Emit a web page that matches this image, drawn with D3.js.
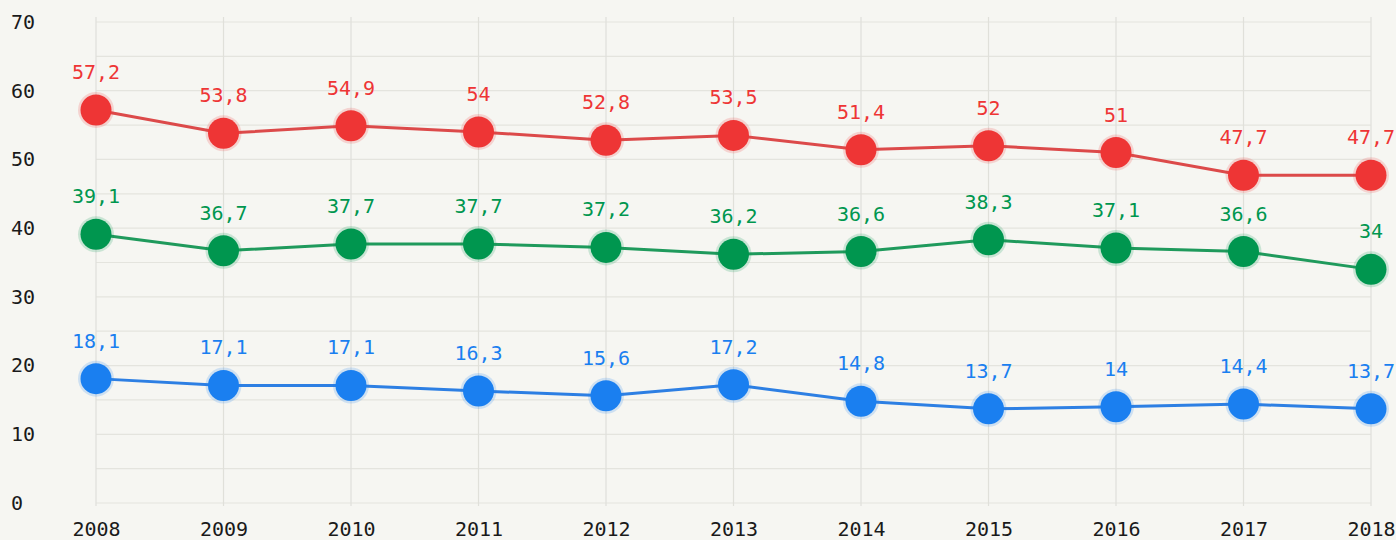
<!DOCTYPE html>
<html>
<head>
<meta charset="utf-8">
<script src="https://cdn.jsdelivr.net/npm/d3@7"></script>
<style>
  html, body { margin: 0; padding: 0; background: #f6f6f2; }
  svg { display: block; }
</style>
</head>
<body>
<svg id="chart"></svg>
<script>
const years = [2008, 2009, 2010, 2011, 2012, 2013, 2014, 2015, 2016, 2017, 2018]
const redValues = [57.2, 53.8, 54.9, 54, 52.8, 53.5, 51.4, 52, 51, 47.7, 47.7]
const greenValues = [39.1, 36.7, 37.7, 37.7, 37.2, 36.2, 36.6, 38.3, 37.1, 36.6, 34]
const blueValues = [18.1, 17.1, 17.1, 16.3, 15.6, 17.2, 14.8, 13.7, 14, 14.4, 13.7]
const yTicks = [0, 10, 20, 30, 40, 50, 60, 70]

const width = 1396, height = 540
const font = "'DejaVu Sans Mono', 'Liberation Mono', monospace"

const series = [
  { values: redValues, dot: '#ee3535', line: '#dc4a4a', text: '#ee3535' },
  { values: greenValues, dot: '#00964f', line: '#1f9a5c', text: '#00964f' },
  { values: blueValues, dot: '#1a7ff0', line: '#2d7fe3', text: '#1a7ff0' }
]

const svg = d3.select('#chart')
  .attr('width', width)
  .attr('height', height)

const x = d3.scalePoint()
  .domain(years)
  .range([96, 1371])

const y = d3.scaleLinear()
  .domain([0, 70])
  .range([503, 22])

// grid: horizontal every 5, vertical at each year
const grid = svg.append('g')
grid.selectAll('line.h')
  .data(d3.range(0, 71, 5))
  .enter().append('line')
  .attr('x1', x(years[0]))
  .attr('x2', x(years[years.length - 1]))
  .attr('y1', d => y(d))
  .attr('y2', d => y(d))
  .attr('stroke', '#e4e4de')
  .attr('stroke-width', 1.2)
grid.selectAll('line.v')
  .data(years)
  .enter().append('line')
  .attr('x1', d => x(d))
  .attr('x2', d => x(d))
  .attr('y1', 17)
  .attr('y2', y(0) + 3)
  .attr('stroke', '#e0e0da')
  .attr('stroke-width', 1.2)

// y axis labels
const yAxis = svg.append('g')
  .attr('transform', 'translate(11,0)')
  .call(d3.axisLeft(y).tickValues(yTicks).tickSize(0).tickPadding(0))
yAxis.select('.domain').remove()
yAxis.selectAll('text')
  .attr('text-anchor', 'start')
  .attr('font-family', font)
  .attr('font-size', 20)
  .attr('fill', '#1a1a1a')

// x axis labels
const xAxis = svg.append('g')
  .attr('transform', 'translate(0,' + (y(0) + 19) + ')')
  .call(d3.axisBottom(x).tickSize(0).tickPadding(0))
xAxis.select('.domain').remove()
xAxis.selectAll('text')
  .attr('font-family', font)
  .attr('font-size', 20)
  .attr('fill', '#1a1a1a')

const line = d3.line()
  .x((d, i) => x(years[i]))
  .y(d => y(d))

const fmt = v => String(v).replace('.', ',')

series.forEach(s => {
  const g = svg.append('g')
  g.append('path')
    .datum(s.values)
    .attr('d', line)
    .attr('fill', 'none')
    .attr('stroke', s.line)
    .attr('stroke-width', 3)

  // soft halo around markers
  g.selectAll('circle.halo')
    .data(s.values)
    .enter().append('circle')
    .attr('cx', (d, i) => x(years[i]))
    .attr('cy', d => y(d))
    .attr('r', 18)
    .attr('fill', s.dot)
    .attr('opacity', 0.18)

  g.selectAll('circle.dot')
    .data(s.values)
    .enter().append('circle')
    .attr('cx', (d, i) => x(years[i]))
    .attr('cy', d => y(d))
    .attr('r', 15.5)
    .attr('fill', s.dot)

  g.selectAll('text')
    .data(s.values)
    .enter().append('text')
    .attr('x', (d, i) => x(years[i]))
    .attr('y', d => y(d) - 31)
    .attr('text-anchor', 'middle')
    .attr('font-family', font)
    .attr('font-size', 20)
    .attr('fill', s.text)
    .text(d => fmt(d))
})
</script>
</body>
</html>
